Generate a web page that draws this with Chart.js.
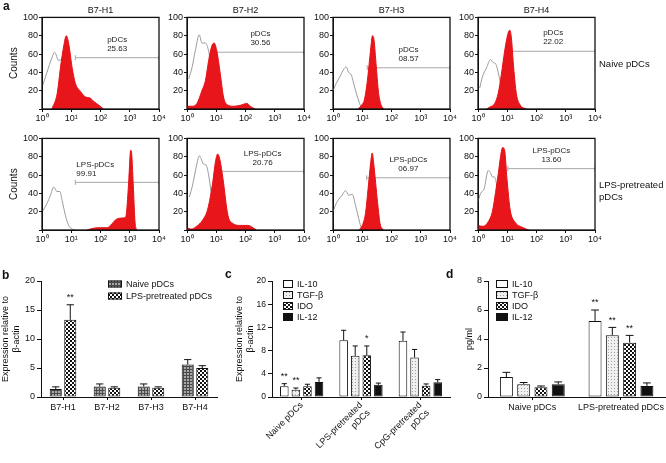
<!DOCTYPE html>
<html>
<head>
<meta charset="utf-8">
<script src="https://cdn.jsdelivr.net/npm/chart.js@4.4.0/dist/chart.umd.min.js"></script>
<style>
  body { margin: 0; background: #fff; }
  #fig { position: relative; width: 666px; height: 463px; overflow: hidden; font-family: "Liberation Sans", Arial, sans-serif; color: #111; }
  canvas { position: absolute; }
  .txt { position: absolute; white-space: nowrap; line-height: 1; }
</style>
</head>
<body>
<div id="fig"></div>
<script>
// ---- panel a: flow histograms, x in log10 decades (10^0 .. 10^4), y in counts
const markers = ["B7-H1", "B7-H2", "B7-H3", "B7-H4"];
const gateNames = ["pDCs", "LPS-pDCs"];
const gatePercents = [["25.63", "30.56", "08.57", "22.02"], ["99.91", "20.76", "06.97", "13.60"]];
const gateStarts = [[1.14, 1.02, 1.17, 1.14], [1.14, 1.17, 1.15, 1.02]];
const gateLevels = [[56, 62, 45, 63], [52, 64, 57, 67]];

const naiveH1 = [[0.34,0],[0.52,17],[0.63,45],[0.75,70],[0.83,80],[0.92,70],[1.03,45],[1.14,28],[1.32,19],[1.49,13],[1.64,12],[1.78,8],[1.95,4],[2.1,0]];
const naiveH1Iso = [[0.03,26],[0.17,40],[0.34,56],[0.43,62],[0.57,53],[0.69,54],[0.8,40],[0.95,15],[1.1,0]];
const naiveH2 = [[0,3],[0.17,3],[0.34,6],[0.51,20],[0.63,31],[0.74,53],[0.85,69],[0.93,72],[1.02,63],[1.14,38],[1.25,13],[1.36,5],[1.59,3],[1.82,4],[2.05,6],[2.16,3],[2.33,0]];
const naiveH2Iso = [[0.06,33],[0.17,45],[0.28,63],[0.42,81],[0.51,72],[0.63,72],[0.74,63],[0.85,40],[1.0,10],[1.1,0]];
const naiveH3 = [[0.85,0],[0.97,4],[1.08,11],[1.19,35],[1.28,63],[1.35,80],[1.4,76],[1.48,46],[1.56,17],[1.65,4],[1.74,0]];
const naiveH3Iso = [[0,20],[0.11,28],[0.23,35],[0.38,44],[0.45,46],[0.53,40],[0.63,37],[0.68,31],[0.8,17],[0.91,6],[0.97,1],[1.02,0]];
const naiveH4 = [[0.29,0],[0.4,2],[0.57,6],[0.69,17],[0.8,38],[0.91,63],[1.03,83],[1.09,86],[1.14,78],[1.22,45],[1.31,17],[1.45,4],[1.66,0]];
const naiveH4Iso = [[0.06,23],[0.15,35],[0.29,45],[0.43,54],[0.51,51],[0.61,49],[0.69,40],[0.77,28],[0.9,10],[1.0,0]];

const lpsH1 = [[1.54,0],[1.77,2],[2.0,2.5],[2.23,2.5],[2.4,7],[2.51,11],[2.69,13],[2.86,14],[2.91,27],[2.97,56],[3.03,87],[3.06,85],[3.12,49],[3.18,9],[3.23,0]];
const lpsH1Iso = [[0.03,21],[0.17,29],[0.29,38],[0.4,47],[0.51,42],[0.61,42],[0.69,32],[0.8,16],[0.91,5],[1.03,1],[1.14,0]];
const lpsH2 = [[0,2.5],[0.14,1],[0.31,3.6],[0.54,11],[0.71,23],[0.88,52],[0.97,74],[1.05,83],[1.13,76],[1.23,56],[1.4,16],[1.57,7],[1.8,5],[2.08,5],[2.26,2.5],[2.37,0]];
const lpsH2Iso = [[0.08,36],[0.19,49],[0.33,71],[0.42,81],[0.48,78],[0.56,72],[0.65,71],[0.74,60],[0.85,35],[0.98,8],[1.08,0]];
const lpsH3 = [[0.89,0],[1.0,5],[1.11,18],[1.2,45],[1.29,74],[1.34,84],[1.4,70],[1.52,31],[1.61,7],[1.72,0]];
const lpsH3Iso = [[0,20],[0.14,31],[0.31,38],[0.43,43],[0.54,38],[0.66,39],[0.77,27],[0.89,11],[0.97,2],[1.02,0]];
const lpsH4 = [[0,5],[0.17,4],[0.35,9],[0.49,20],[0.6,41],[0.7,63],[0.76,78],[0.84,90],[0.91,87],[0.99,56],[1.1,22],[1.28,8],[1.51,3],[1.74,0]];
const lpsH4Iso = [[0,31],[0.09,40],[0.21,45],[0.35,65],[0.42,63],[0.49,58],[0.56,58],[0.64,49],[0.75,25],[0.88,5],[0.95,0]];

const stained = [[naiveH1, naiveH2, naiveH3, naiveH4], [lpsH1, lpsH2, lpsH3, lpsH4]];
const isotype = [[naiveH1Iso, naiveH2Iso, naiveH3Iso, naiveH4Iso], [lpsH1Iso, lpsH2Iso, lpsH3Iso, lpsH4Iso]];

// ---- panel b
const bCategories = ["B7-H1", "B7-H2", "B7-H3", "B7-H4"];
const bNaive = [1.4, 1.8, 1.8, 5.6];
const bNaiveErr = [0.35, 0.45, 0.45, 0.85];
const bLps = [13.3, 1.6, 1.6, 5.0];
const bLpsErr = [2.6, 0.15, 0.15, 0.4];
const bLpsStars = ["**", "", "", ""];

// ---- panel c
const cGroups = [["Naive pDCs"], ["LPS-pretreated", "pDCs"], ["CpG-pretreated", "pDCs"]];
const cIL10 = [1.85, 9.8, 9.7];
const cIL10Err = [0.45, 1.7, 1.5];
const cTGFb = [1.27, 7.1, 6.8];
const cTGFbErr = [0.28, 1.7, 1.4];
const cIDO = [1.85, 7.2, 1.95];
const cIDOErr = [0.35, 1.6, 0.3];
const cIL12 = [2.6, 2.1, 2.55];
const cIL12Err = [0.7, 0.3, 0.45];
const cIL10Stars = ["**", "", ""];
const cTGFbStars = ["**", "", ""];
const cIDOStars = ["", "*", ""];

// ---- panel d
const dGroups = ["Naive pDCs", "LPS-pretreated pDCs"];
const dIL10 = [1.38, 5.25];
const dIL10Err = [0.32, 0.75];
const dTGFb = [0.88, 4.26];
const dTGFbErr = [0.12, 0.54];
const dIDO = [0.67, 3.75];
const dIDOErr = [0.09, 0.5];
const dIL12 = [0.88, 0.76];
const dIL12Err = [0.16, 0.21];
const dStars = ["", "**"];

const FONT = "'Liberation Sans', Arial, sans-serif";
Chart.defaults.font.family = FONT;
Chart.defaults.color = "#111";
const sup = ["\u2070", "\u00b9", "\u00b2", "\u00b3", "\u2074"];
const fig = document.getElementById("fig");

function addCanvas(left, top, width, height) {
  const c = document.createElement("canvas");
  c.width = width;
  c.height = height;
  c.style.left = left + "px";
  c.style.top = top + "px";
  fig.appendChild(c);
  return c;
}

function addText(text, x, baseline, size, opts = {}) {
  const d = document.createElement("div");
  d.className = "txt";
  d.textContent = text;
  d.style.fontSize = size + "px";
  d.style.left = x + "px";
  d.style.top = (baseline - 0.86 * size) + "px";
  if (opts.bold) d.style.fontWeight = "bold";
  if (opts.center) d.style.transform = "translateX(-50%)";
  fig.appendChild(d);
}

function makePattern(size, draw) {
  const c = document.createElement("canvas");
  c.width = c.height = size;
  const g = c.getContext("2d");
  draw(g);
  return g.createPattern(c, "repeat");
}
const hatchGray = makePattern(3, (g) => {
  g.fillStyle = "#a8a8a8"; g.fillRect(0, 0, 3, 3);
  g.fillStyle = "#4a4a4a"; g.fillRect(0, 0, 3, 1); g.fillRect(0, 0, 1, 3);
});
const checker = makePattern(4, (g) => {
  g.fillStyle = "#fff"; g.fillRect(0, 0, 4, 4);
  g.fillStyle = "#111"; g.fillRect(0, 0, 2, 2); g.fillRect(2, 2, 2, 2);
});
const dots = makePattern(3, (g) => {
  g.fillStyle = "#efefef"; g.fillRect(0, 0, 3, 3);
  g.fillStyle = "#a0a0a0"; g.fillRect(1, 1, 1, 1);
});

const framePlugin = {
  id: "frame",
  afterDraw(chart) {
    const { ctx, chartArea: a } = chart;
    ctx.save();
    ctx.strokeStyle = "#111";
    ctx.lineWidth = 1.3;
    ctx.strokeRect(a.left, a.top, a.right - a.left, a.bottom - a.top);
    ctx.restore();
  },
};

const gateText = {
  id: "gateText",
  afterDatasetsDraw(chart, args, opts) {
    const meta = chart.getDatasetMeta(2);
    const p0 = meta.data[0], p1 = meta.data[1];
    const ctx = chart.ctx;
    ctx.save();
    ctx.font = "8px " + FONT;
    ctx.fillStyle = "#222";
    ctx.textBaseline = "middle";
    let x = (p0.x + p1.x) / 2;
    ctx.textAlign = "center";
    if (opts.align === "left") {
      x = p0.x + 1;
      ctx.textAlign = "left";
    }
    ctx.fillText(opts.name, x, p0.y - 18);
    ctx.fillText(opts.value, x, p0.y - 9);
    ctx.restore();
  },
};

const errorBars = {
  id: "errorBars",
  afterDatasetsDraw(chart) {
    const ctx = chart.ctx, y = chart.scales.y;
    ctx.save();
    ctx.strokeStyle = "#111";
    ctx.lineWidth = 1;
    ctx.fillStyle = "#111";
    ctx.font = "9px " + FONT;
    ctx.textAlign = "center";
    ctx.textBaseline = "middle";
    chart.data.datasets.forEach((ds, i) => {
      chart.getDatasetMeta(i).data.forEach((bar, j) => {
        const top = y.getPixelForValue(ds.data[j] + ds.errors[j]);
        const cap = bar.width * 0.3;
        ctx.beginPath();
        ctx.moveTo(bar.x, bar.y);
        ctx.lineTo(bar.x, top);
        ctx.moveTo(bar.x - cap, top);
        ctx.lineTo(bar.x + cap, top);
        ctx.stroke();
        if (ds.stars && ds.stars[j]) ctx.fillText(ds.stars[j], bar.x, top - 7);
      });
    });
    ctx.restore();
  },
};

const boxLegend = {
  id: "boxLegend",
  afterDraw(chart, args, opts) {
    const ctx = chart.ctx;
    ctx.save();
    ctx.font = "9px " + FONT;
    ctx.textBaseline = "middle";
    chart.data.datasets.forEach((ds, i) => {
      const y = opts.y + i * opts.gap;
      ctx.fillStyle = ds.backgroundColor;
      ctx.fillRect(opts.x, y - opts.h / 2, opts.w, opts.h);
      ctx.strokeStyle = "#111";
      ctx.lineWidth = 1;
      ctx.strokeRect(opts.x + 0.5, y - opts.h / 2 + 0.5, opts.w - 1, opts.h - 1);
      ctx.fillStyle = "#111";
      ctx.fillText(ds.label, opts.x + opts.w + 4, y + 0.5);
    });
    ctx.restore();
  },
};

const toPoints = (arr) => arr.map(([x, y]) => ({ x, y }));

// ---- histograms
const boxLefts = [42, 187, 333, 478];
const boxTops = [17, 138];
const boxW = 117, boxH = 92;

function histogram(r, c) {
  const yW = c === 0 ? 42 : 30;
  const canvas = addCanvas(boxLefts[c] - yW, boxTops[r] - 6, yW + boxW + 10, 6 + boxH + 16);
  const lvl = gateLevels[r][c];
  new Chart(canvas, {
    type: "line",
    data: {
      datasets: [
        {
          data: toPoints(stained[r][c]),
          borderColor: "rgb(228,18,24)",
          backgroundColor: "rgb(232,22,26)",
          borderWidth: 1,
          fill: "origin",
          pointRadius: 0,
          cubicInterpolationMode: "monotone",
        },
        {
          data: toPoints(isotype[r][c]),
          borderColor: "#9c9c9c",
          borderWidth: 1,
          fill: false,
          pointRadius: 0,
          cubicInterpolationMode: "monotone",
        },
        {
          data: [{ x: gateStarts[r][c], y: lvl }, { x: 4, y: lvl }],
          borderColor: "#a8a8a8",
          borderWidth: 1,
          fill: false,
          pointStyle: "line",
          pointRotation: 90,
          pointRadius: 2.5,
          pointBorderColor: "#a8a8a8",
          pointBorderWidth: 1,
        },
      ],
    },
    options: {
      responsive: false,
      animation: false,
      layout: { padding: { left: 0, top: 6, right: 10, bottom: 0 } },
      plugins: {
        legend: { display: false },
        tooltip: { enabled: false },
        gateText: { name: gateNames[r], value: gatePercents[r][c], align: r === 1 && c === 0 ? "left" : "center" },
      },
      scales: {
        x: {
          type: "linear",
          min: 0,
          max: 4,
          afterFit: (s) => { s.height = 16; },
          grid: { drawOnChartArea: false, tickLength: 3, color: "#111" },
          border: { color: "#111" },
          ticks: { stepSize: 1, autoSkip: false, maxRotation: 0, padding: 1, font: { size: 9 }, callback: (v) => "10" + sup[v] },
        },
        y: {
          min: 0,
          max: 100,
          afterFit: (s) => { s.width = yW; },
          grid: { drawOnChartArea: false, tickLength: 3, color: "#111" },
          border: { color: "#111" },
          title: { display: c === 0, text: "Counts", font: { size: 10 }, padding: { top: 8, bottom: 0 } },
          ticks: { stepSize: 20, padding: 1, font: { size: 9 }, callback: (v) => (v === 0 ? "" : v) },
        },
      },
    },
    plugins: [framePlugin, gateText],
  });
}

for (let r = 0; r < 2; r++) {
  for (let c = 0; c < 4; c++) histogram(r, c);
}
markers.forEach((m, c) => addText(m, boxLefts[c] + boxW / 2, 14, 9, { center: true }));
addText("Naive pDCs", 599, 67, 9.5);
addText("LPS-pretreated", 599, 188, 9.5);
addText("pDCs", 599, 200, 9.5);

// ---- bar charts
function barScales(yMax, step, yW, titleText, titlePad, xH, rot, tickSize) {
  return {
    x: {
      afterFit: (s) => { s.height = xH; },
      grid: { display: true, drawOnChartArea: false, offset: false, tickLength: 3, color: "#111" },
      border: { color: "#111" },
      ticks: { font: { size: 9 }, padding: rot ? 0 : 2, autoSkip: false, minRotation: rot, maxRotation: rot },
    },
    y: {
      min: 0,
      max: yMax,
      afterFit: (s) => { s.width = yW; },
      grid: { drawOnChartArea: false, tickLength: 4, color: "#111" },
      border: { color: "#111" },
      ticks: { stepSize: step, padding: 2, font: { size: tickSize } },
      title: { display: true, text: titleText, font: { size: 9, lineHeight: 1.25 }, padding: { top: titlePad, bottom: 0 } },
    },
  };
}

const barStyle = { borderColor: "#111", borderWidth: 1, borderSkipped: false };

new Chart(addCanvas(0, 270, 225, 150), {
  type: "bar",
  data: {
    labels: bCategories,
    datasets: [
      { label: "Naive pDCs", data: bNaive, errors: bNaiveErr, backgroundColor: hatchGray, ...barStyle, categoryPercentage: 0.66, barPercentage: 0.83 },
      { label: "LPS-pretreated pDCs", data: bLps, errors: bLpsErr, stars: bLpsStars, backgroundColor: checker, ...barStyle, categoryPercentage: 0.66, barPercentage: 0.83 },
    ],
  },
  options: {
    responsive: false,
    animation: false,
    layout: { padding: { left: 0, top: 11, right: 8, bottom: 0 } },
    plugins: { legend: { display: false }, tooltip: { enabled: false }, boxLegend: { x: 108, y: 14, gap: 12, w: 14, h: 7 } },
    scales: barScales(20, 5, 41, ["Expression relative to", "\u03b2-actin"], 0, 23, 0, 9),
  },
  plugins: [errorBars, boxLegend],
});

new Chart(addCanvas(222, 270, 234, 193), {
  type: "bar",
  data: {
    labels: cGroups,
    datasets: [
      { label: "IL-10", data: cIL10, errors: cIL10Err, stars: cIL10Stars, backgroundColor: "#fff", ...barStyle, categoryPercentage: 0.78, barPercentage: 0.74 },
      { label: "TGF-\u03b2", data: cTGFb, errors: cTGFbErr, stars: cTGFbStars, backgroundColor: dots, ...barStyle, categoryPercentage: 0.78, barPercentage: 0.74 },
      { label: "IDO", data: cIDO, errors: cIDOErr, stars: cIDOStars, backgroundColor: checker, ...barStyle, categoryPercentage: 0.78, barPercentage: 0.74 },
      { label: "IL-12", data: cIL12, errors: cIL12Err, backgroundColor: "#111", ...barStyle, categoryPercentage: 0.78, barPercentage: 0.74 },
    ],
  },
  options: {
    responsive: false,
    animation: false,
    layout: { padding: { left: 0, top: 11, right: 6, bottom: 0 } },
    plugins: { legend: { display: false }, tooltip: { enabled: false }, boxLegend: { x: 61, y: 14, gap: 11, w: 10, h: 8 } },
    scales: barScales(20, 2, 50, ["Expression relative to", "\u03b2-actin"], 12, 66, 45, 8.5),
  },
  plugins: [errorBars, boxLegend],
});

new Chart(addCanvas(442, 270, 224, 150), {
  type: "bar",
  data: {
    labels: dGroups,
    datasets: [
      { label: "IL-10", data: dIL10, errors: dIL10Err, stars: dStars, backgroundColor: "#fff", ...barStyle, categoryPercentage: 0.78, barPercentage: 0.75 },
      { label: "TGF-\u03b2", data: dTGFb, errors: dTGFbErr, stars: dStars, backgroundColor: dots, ...barStyle, categoryPercentage: 0.78, barPercentage: 0.75 },
      { label: "IDO", data: dIDO, errors: dIDOErr, stars: dStars, backgroundColor: checker, ...barStyle, categoryPercentage: 0.78, barPercentage: 0.75 },
      { label: "IL-12", data: dIL12, errors: dIL12Err, backgroundColor: "#111", ...barStyle, categoryPercentage: 0.78, barPercentage: 0.75 },
    ],
  },
  options: {
    responsive: false,
    animation: false,
    layout: { padding: { left: 0, top: 11, right: 0, bottom: 0 } },
    plugins: { legend: { display: false }, tooltip: { enabled: false }, boxLegend: { x: 54, y: 14, gap: 11, w: 12, h: 8 } },
    scales: barScales(8, 2, 46, "pg/ml", 22, 23, 0, 9),
  },
  plugins: [errorBars, boxLegend],
});

// panel letters
addText("a", 3, 10, 12, { bold: true });
addText("b", 2, 279, 12, { bold: true });
addText("c", 225, 278, 12, { bold: true });
addText("d", 446, 278, 12, { bold: true });
</script>
</body>
</html>
